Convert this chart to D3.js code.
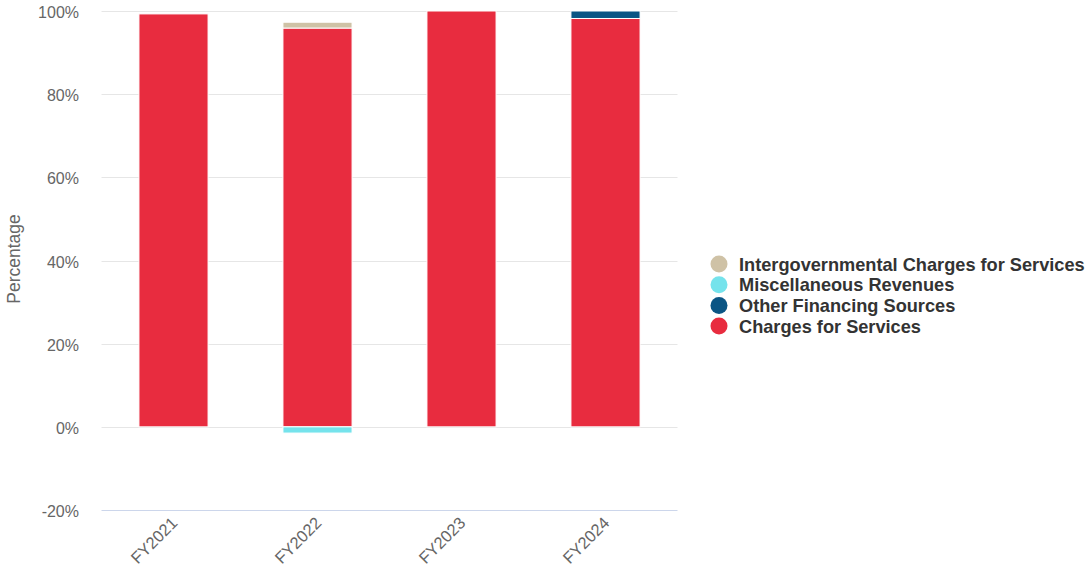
<!DOCTYPE html>
<html>
<head>
<meta charset="utf-8">
<script src="https://cdn.jsdelivr.net/npm/d3@7"></script>
<style>
  body { margin: 0; background: #fff; }
  svg { font-family: "Liberation Sans", Arial, Helvetica, sans-serif; }
</style>
</head>
<body>
<svg id="chart" width="1091" height="575"></svg>
<script>
// Fiscal years along the x axis
const categories = ["FY2021", "FY2022", "FY2023", "FY2024"];

// Share of revenue (%) per source and year
const chargesForServices = [99.3, 95.9, 100.0, 98.2];
const otherFinancingSources = [0, 0, 0, 1.8];
const intergovernmentalCharges = [0, 1.4, 0, 0];
const miscellaneousRevenues = [0, -1.5, 0, 0];

// Y axis ticks
const yTicks = [-20, 0, 20, 40, 60, 80, 100];

// Series in legend order; stack order is bottom-up for positive values
const series = [
  { name: "Intergovernmental Charges for Services", values: intergovernmentalCharges, color: "#cfc2a6" },
  { name: "Miscellaneous Revenues", values: miscellaneousRevenues, color: "#75e3ec" },
  { name: "Other Financing Sources", values: otherFinancingSources, color: "#0b5584" },
  { name: "Charges for Services", values: chargesForServices, color: "#e82c3f" }
];
const stackOrder = [3, 2, 0, 1];

const svg = d3.select("#chart");
const plot = { left: 101.5, right: 677.5, top: 11, bottom: 510 };

const x = d3.scaleBand().domain(categories).range([plot.left, plot.right]).paddingInner(0.52).paddingOuter(0.26);
const y = d3.scaleLinear().domain([-20, 100]).range([plot.bottom, plot.top]);

// Gridlines
svg.append("g").selectAll("line").data(yTicks.filter(t => t !== -20)).join("line")
  .attr("x1", plot.left).attr("x2", plot.right)
  .attr("y1", d => Math.round(y(d)) + 0.5).attr("y2", d => Math.round(y(d)) + 0.5)
  .attr("stroke", "#e6e6e6").attr("stroke-width", 1);

// Bottom axis line
svg.append("line")
  .attr("x1", plot.left).attr("x2", plot.right)
  .attr("y1", Math.round(y(-20)) + 0.5).attr("y2", Math.round(y(-20)) + 0.5)
  .attr("stroke", "#ccd6eb").attr("stroke-width", 1);

// Y tick labels
svg.append("g").selectAll("text").data(yTicks).join("text")
  .attr("x", 79).attr("y", d => y(d) + 7)
  .attr("text-anchor", "end").attr("fill", "#666666").attr("font-size", 16)
  .text(d => d + "%");

// Y axis title
svg.append("text")
  .attr("transform", "translate(20,259) rotate(-90)")
  .attr("text-anchor", "middle").attr("fill", "#666666").attr("font-size", 17.5)
  .text("Percentage");

// X tick labels
svg.append("g").selectAll("text").data(categories).join("text")
  .attr("transform", d => `translate(${x(d) + x.bandwidth() / 2 + 5},${524}) rotate(-45)`)
  .attr("text-anchor", "end").attr("fill", "#666666").attr("font-size", 16.5)
  .text(d => d);

// Stacked bars
const bars = svg.append("g");
categories.forEach((cat, i) => {
  let pos = 0, neg = 0;
  stackOrder.forEach(si => {
    const s = series[si];
    const v = s.values[i];
    if (!v) return;
    let y0, y1;
    if (v > 0) { y0 = pos; y1 = pos + v; pos = y1; }
    else { y0 = neg + v; y1 = neg; neg = y0; }
    bars.append("rect")
      .attr("x", x(cat)).attr("width", x.bandwidth())
      .attr("y", y(y1)).attr("height", y(y0) - y(y1))
      .attr("fill", s.color).attr("stroke", "#ffffff").attr("stroke-width", 1);
  });
});

// Legend
const legend = svg.append("g").attr("transform", "translate(719,264)");
series.forEach((s, i) => {
  const g = legend.append("g").attr("transform", `translate(0,${i * 20.7})`);
  g.append("circle").attr("r", 8.5).attr("fill", s.color);
  g.append("text").attr("x", 20).attr("y", 6.5)
    .attr("font-size", 18.2).attr("font-weight", "bold").attr("fill", "#333333")
    .text(s.name);
});
</script>
</body>
</html>
